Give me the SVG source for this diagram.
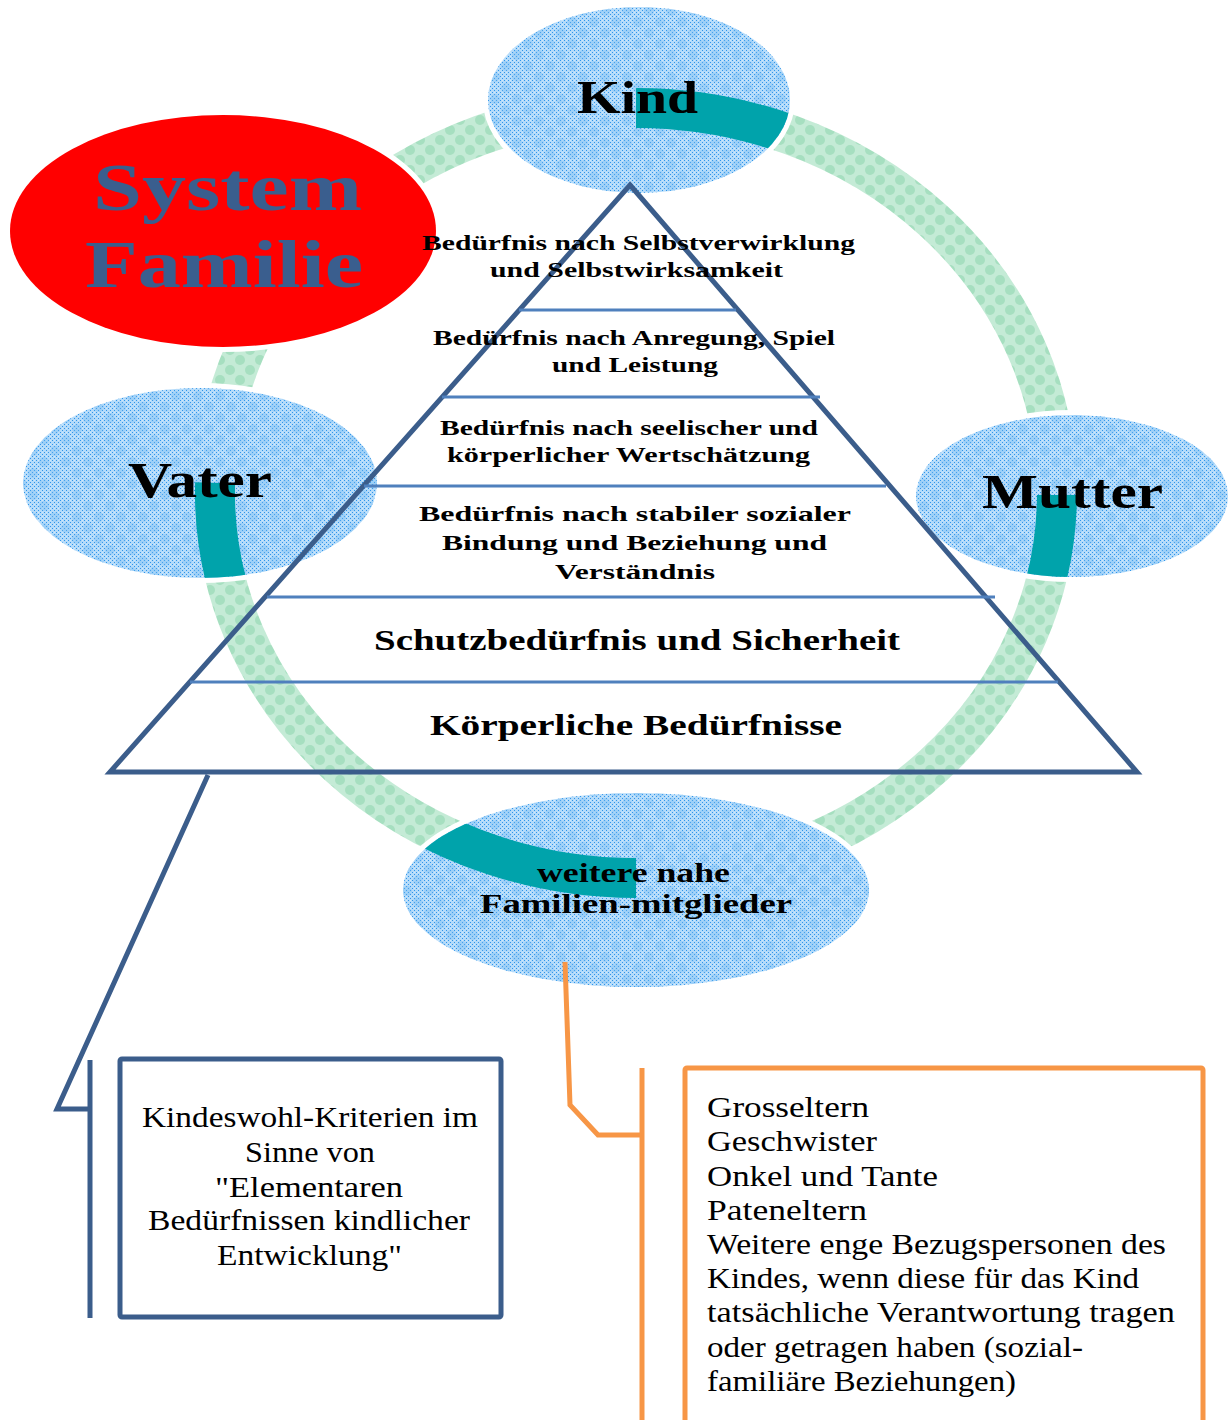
<svg xmlns="http://www.w3.org/2000/svg" width="1232" height="1420" viewBox="0 0 1232 1420">
<style>
.bold{font-family:"Liberation Serif","Times New Roman",serif;font-weight:bold;fill:#000}
.reg{font-family:"Liberation Serif","Times New Roman",serif;font-weight:normal;fill:#000}
.sys{font-family:"Liberation Serif","Times New Roman",serif;font-weight:bold;fill:#3a5e8e}
.bubble{fill:url(#blueFine);stroke:#fff;stroke-width:10;paint-order:stroke}
.blob{fill:url(#blueCoarse);stroke:none}
.teal{fill:none;stroke:#00a3ab;stroke-width:40}
.pyr{fill:none;stroke:#3b5d8b;stroke-width:5;stroke-linejoin:miter}
.div{stroke:#4f80bd;stroke-width:3}
.blueline{fill:none;stroke:#3b5d8b;stroke-width:5}
.orangeline{fill:none;stroke:#f79646;stroke-width:5}
</style>
<defs>
<pattern id="blueFine" width="4" height="4" patternUnits="userSpaceOnUse">
<rect width="4" height="4" fill="#b4dbfa"/>
<rect x="0" y="0" width="1" height="1" fill="#2f95ea"/>
<rect x="2" y="2" width="1" height="1" fill="#2f95ea"/>
<rect x="2" y="0" width="1" height="1" fill="#cfe8fc"/>
</pattern>
<pattern id="blueCoarse" width="22" height="22" patternUnits="userSpaceOnUse">
<circle cx="11" cy="11" r="5" fill="#6fb6f0" opacity="0.35"/>
<circle cx="0" cy="0" r="5" fill="#6fb6f0" opacity="0.35"/>
<circle cx="22" cy="0" r="5" fill="#6fb6f0" opacity="0.35"/>
<circle cx="0" cy="22" r="5" fill="#6fb6f0" opacity="0.35"/>
<circle cx="22" cy="22" r="5" fill="#6fb6f0" opacity="0.35"/>
</pattern>
<pattern id="greenPat" width="20" height="20" patternUnits="userSpaceOnUse">
<rect width="20" height="20" fill="#c4ebd6"/>
<circle cx="10" cy="10" r="5" fill="#a6dfc0"/>
<circle cx="0" cy="0" r="5" fill="#a6dfc0"/>
<circle cx="20" cy="0" r="5" fill="#a6dfc0"/>
<circle cx="0" cy="20" r="5" fill="#a6dfc0"/>
<circle cx="20" cy="20" r="5" fill="#a6dfc0"/>
</pattern>
<clipPath id="cKind"><ellipse cx="639" cy="100" rx="151" ry="93"/></clipPath>
<clipPath id="cVater"><ellipse cx="200" cy="483" rx="177" ry="95"/></clipPath>
<clipPath id="cMutter"><ellipse cx="1072" cy="496" rx="156" ry="81"/></clipPath>
<clipPath id="cWeitere"><ellipse cx="636" cy="890" rx="233" ry="97"/></clipPath>
</defs>

<rect width="1232" height="1420" fill="#fff"/>

<g id="ring">
<ellipse cx="636" cy="493" rx="421" ry="385" fill="none" stroke="url(#greenPat)" stroke-width="40"/>
</g>

<g id="system-familie">
<ellipse cx="223" cy="231" rx="213" ry="116" fill="#ff0000" stroke="#fff" stroke-width="10" paint-order="stroke"/>
<text class="sys" x="93" y="210" font-size="68" textLength="269" lengthAdjust="spacingAndGlyphs">System</text>
<text class="sys" x="85" y="287" font-size="68" textLength="278" lengthAdjust="spacingAndGlyphs">Familie</text>
</g>

<g id="kind">
<ellipse class="bubble" cx="639" cy="100" rx="151" ry="93"/>
<ellipse class="blob" cx="639" cy="100" rx="151" ry="93"/>
<path class="teal" clip-path="url(#cKind)" d="M636,108 A421,385 0 0 1 877.6,177.6"/>
<text class="bold" x="577" y="113" font-size="46" textLength="121" lengthAdjust="spacingAndGlyphs">Kind</text>
</g>

<g id="vater">
<ellipse class="bubble" cx="200" cy="483" rx="177" ry="95"/>
<ellipse class="blob" cx="200" cy="483" rx="177" ry="95"/>
<path class="teal" clip-path="url(#cVater)" d="M215.1,482.9 A421,385 0 0 0 271.4,685.5"/>
<text class="bold" x="128" y="497" font-size="50" textLength="144" lengthAdjust="spacingAndGlyphs">Vater</text>
</g>

<g id="mutter">
<ellipse class="bubble" cx="1072" cy="496" rx="156" ry="81"/>
<ellipse class="blob" cx="1072" cy="496" rx="156" ry="81"/>
<path class="teal" clip-path="url(#cMutter)" d="M1057,495 A421,385 0 0 1 1000.6,685.5"/>
<text class="bold" x="982" y="508" font-size="48" textLength="181" lengthAdjust="spacingAndGlyphs">Mutter</text>
</g>

<g id="weitere">
<ellipse class="bubble" cx="636" cy="890" rx="233" ry="97"/>
<ellipse class="blob" cx="636" cy="890" rx="233" ry="97"/>
<path class="teal" clip-path="url(#cWeitere)" d="M636,878 A421,385 0 0 1 365.4,787.9"/>
<text class="bold" x="537" y="882" font-size="27" textLength="193" lengthAdjust="spacingAndGlyphs">weitere nahe</text>
<text class="bold" x="480" y="913" font-size="27" textLength="312" lengthAdjust="spacingAndGlyphs">Familien-mitglieder</text>
</g>

<g id="pyramid">
<polygon class="pyr" points="630,185 1137,772 110,772"/>
<line class="div" x1="519" y1="310" x2="736" y2="310"/>
<line class="div" x1="442" y1="397" x2="820" y2="397"/>
<line class="div" x1="364" y1="486" x2="886" y2="486"/>
<line class="div" x1="267" y1="597" x2="995" y2="597"/>
<line class="div" x1="190" y1="682" x2="1058" y2="682"/>
<g id="level-selbstverwirklichung">
<text class="bold" x="422" y="250" font-size="22" textLength="433" lengthAdjust="spacingAndGlyphs">Bedürfnis nach Selbstverwirklung</text>
<text class="bold" x="490" y="277" font-size="22" textLength="293" lengthAdjust="spacingAndGlyphs">und Selbstwirksamkeit</text>
</g>
<g id="level-anregung">
<text class="bold" x="433" y="345" font-size="22" textLength="402" lengthAdjust="spacingAndGlyphs">Bedürfnis nach Anregung, Spiel</text>
<text class="bold" x="552" y="372" font-size="22" textLength="166" lengthAdjust="spacingAndGlyphs">und Leistung</text>
</g>
<g id="level-wertschaetzung">
<text class="bold" x="440" y="435" font-size="22" textLength="378" lengthAdjust="spacingAndGlyphs">Bedürfnis nach seelischer und</text>
<text class="bold" x="447" y="462" font-size="22" textLength="363" lengthAdjust="spacingAndGlyphs">körperlicher Wertschätzung</text>
</g>
<g id="level-bindung">
<text class="bold" x="419" y="521" font-size="22" textLength="432" lengthAdjust="spacingAndGlyphs">Bedürfnis  nach stabiler  sozialer</text>
<text class="bold" x="442" y="550" font-size="22" textLength="385" lengthAdjust="spacingAndGlyphs">Bindung  und  Beziehung  und</text>
<text class="bold" x="555" y="579" font-size="22" textLength="160" lengthAdjust="spacingAndGlyphs">Verständnis</text>
</g>
<g id="level-schutz">
<text class="bold" x="374" y="650" font-size="30" textLength="526" lengthAdjust="spacingAndGlyphs">Schutzbedürfnis und Sicherheit</text>
</g>
<g id="level-koerper">
<text class="bold" x="430" y="735" font-size="30" textLength="412" lengthAdjust="spacingAndGlyphs">Körperliche Bedürfnisse</text>
</g>
</g>

<g id="kriterien-box">
<rect x="120" y="1059" width="381" height="258" rx="2" fill="#fff" stroke="#3b5d8b" stroke-width="5"/>
<text class="reg" x="142" y="1127" font-size="29" textLength="336" lengthAdjust="spacingAndGlyphs">Kindeswohl-Kriterien im</text>
<text class="reg" x="245" y="1162" font-size="29" textLength="130" lengthAdjust="spacingAndGlyphs">Sinne von</text>
<text class="reg" x="215" y="1197" font-size="29" textLength="188" lengthAdjust="spacingAndGlyphs">"Elementaren</text>
<text class="reg" x="148" y="1230" font-size="29" textLength="322" lengthAdjust="spacingAndGlyphs">Bedürfnissen kindlicher</text>
<text class="reg" x="217" y="1265" font-size="29" textLength="185" lengthAdjust="spacingAndGlyphs">Entwicklung"</text>
</g>

<g id="bezugspersonen-box">
<rect x="685" y="1068" width="518" height="400" rx="2" fill="#fff" stroke="#f79646" stroke-width="5"/>
<text class="reg" x="707" y="1117" font-size="30" textLength="162" lengthAdjust="spacingAndGlyphs">Grosseltern</text>
<text class="reg" x="707" y="1151" font-size="30" textLength="170" lengthAdjust="spacingAndGlyphs">Geschwister</text>
<text class="reg" x="707" y="1186" font-size="30" textLength="231" lengthAdjust="spacingAndGlyphs">Onkel und Tante</text>
<text class="reg" x="707" y="1220" font-size="30" textLength="160" lengthAdjust="spacingAndGlyphs">Pateneltern</text>
<text class="reg" x="707" y="1254" font-size="30" textLength="459" lengthAdjust="spacingAndGlyphs">Weitere enge Bezugspersonen des</text>
<text class="reg" x="707" y="1288" font-size="30" textLength="432" lengthAdjust="spacingAndGlyphs">Kindes, wenn diese für das Kind</text>
<text class="reg" x="707" y="1322" font-size="30" textLength="468" lengthAdjust="spacingAndGlyphs">tatsächliche Verantwortung tragen</text>
<text class="reg" x="707" y="1357" font-size="30" textLength="376" lengthAdjust="spacingAndGlyphs">oder getragen haben (sozial-</text>
<text class="reg" x="707" y="1391" font-size="30" textLength="309" lengthAdjust="spacingAndGlyphs">familiäre Beziehungen)</text>
</g>

<g id="connectors">
<polyline class="blueline" points="208,775 57,1109 90,1109"/>
<line class="blueline" x1="90" y1="1060" x2="90" y2="1318"/>
<polyline class="orangeline" points="565,962 570,1105 598,1135 642,1135"/>
<line class="orangeline" x1="642" y1="1068" x2="642" y2="1420"/>
</g>
</svg>
